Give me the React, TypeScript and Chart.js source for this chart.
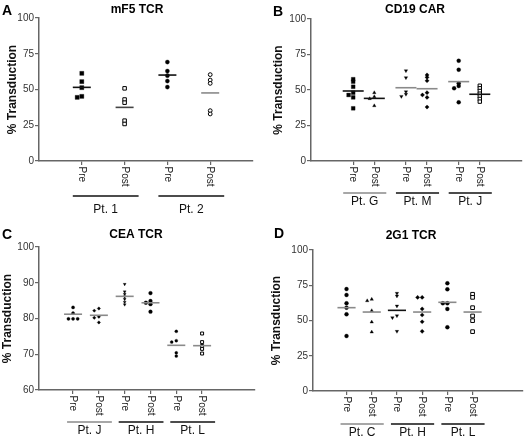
import { useEffect, useRef } from 'react';
import { Chart, registerables } from 'chart.js';

Chart.register(...registerables);

const FONT = '"Liberation Sans", Arial, Helvetica, sans-serif';
const AXIS = '#666666';

// ---------- DATA ----------
// Panel A: mF5 TCR
const catsA = ['Pre', 'Post', 'Pre', 'Post'];
const groupsA = ['Pt. 1', 'Pt. 2'];
const a_pre1 = [61.3, 55.5, 51.3, 45.2, 44.5];
const a_post1 = [50.8, 43.0, 40.8, 28.2, 25.9];
const a_pre2 = [69.2, 62.9, 59.7, 55.9, 51.7];
const a_post2 = [60.4, 56.6, 54.3, 35.2, 32.9];
const meansA = [51.5, 37.5, 60.1, 47.6];
const yTicksA = [0, 25, 50, 75, 100];

// Panel B: CD19 CAR
const catsB = ['Pre', 'Post', 'Pre', 'Post', 'Pre', 'Post'];
const groupsB = ['Pt. G', 'Pt. M', 'Pt. J'];
const b_preG = [57.6, 55.9, 52.3, 48.1, 46.5, 44.8, 37.1];
const b_postG = [48.1, 45.3, 43.9, 38.9];
const b_preM = [63.6, 58.7, 48.8, 47.0, 45.5];
const b_postM = [60.6, 58.9, 56.5, 48.1, 46.5, 44.8, 38.0];
const b_preJ = [70.6, 64.3, 54.7, 52.8, 51.2, 41.3];
const b_postJ = [53.0, 51.2, 49.3, 47.4, 45.5, 43.7, 41.8];
const meansB = [49.3, 44.1, 51.6, 50.9, 55.9, 47.0];
const yTicksB = [0, 25, 50, 75, 100];

// Panel C: CEA TCR
const catsC = ['Pre', 'Post', 'Pre', 'Post', 'Pre', 'Post'];
const groupsC = ['Pt. J', 'Pt. H', 'Pt. L'];
const c_preJ = [83.1, 81.5, 79.9, 79.9, 79.9];
const c_postJ = [82.8, 82.2, 80.5, 80.2, 78.9];
const c_preH = [89.6, 87.5, 86.8, 86.1, 85.4, 84.6, 83.9];
const c_postH = [87.1, 84.9, 84.4, 84.0, 81.9];
const c_preL = [76.4, 73.8, 73.4, 70.4, 69.5];
const c_postL = [75.8, 73.4, 72.3, 71.5, 70.2];
const meansC = [81.2, 80.9, 86.2, 84.4, 72.5, 72.4];
const yTicksC = [60, 70, 80, 90, 100];

// Panel D: 2G1 TCR
const catsD = ['Pre', 'Post', 'Pre', 'Post', 'Pre', 'Post'];
const groupsD = ['Pt. C', 'Pt. H', 'Pt. L'];
const d_preC = [72.3, 68.1, 62.2, 59.1, 54.4, 39.0];
const d_postC = [65.0, 64.0, 57.0, 48.9, 41.8];
const d_preH = [69.3, 67.4, 60.3, 53.4, 52.0, 42.3];
const d_postH = [66.4, 66.4, 58.2, 53.9, 49.1, 42.3];
const d_preL = [76.4, 72.1, 62.2, 62.2, 58.2, 45.2];
const d_postL = [68.6, 66.4, 59.1, 53.2, 49.9, 42.1];
const meansD = [59.1, 56.0, 57.2, 56.0, 62.9, 56.0];
const yTicksD = [0, 25, 50, 75, 100];

// ---------- STYLES / LAYOUT ----------
type Marker = { style: string; rot?: number; fill: boolean; r: number };

type Spec = {
  letter: string; title: string;
  cats: string[]; groups: string[]; values: number[][]; means: number[]; yTicks: number[];
  positions: number[]; xMin: number; xMax: number;
  markers: Marker[]; meanColors: string[]; groupColors: string[];
  w: number; h: number; L: number; T: number; R: number; B: number;
  titleX: number; titleY: number; letterX: number; letterY: number;
  yTitlePad: number; meanHalfPx: number;
  ulL: number; ulR: number; ulDy: number; glDy: number;
};

const BLK = '#111111';
const GRY = '#8a8a8a';

const specs: { spec: Spec; left: number; top: number }[] = [
  {
    left: 0, top: 0,
    spec: {
      letter: 'A', title: 'mF5 TCR', cats: catsA, groups: groupsA,
      values: [a_pre1, a_post1, a_pre2, a_post2], means: meansA, yTicks: yTicksA,
      positions: [1, 2, 3, 4], xMin: 0, xMax: 5,
      markers: [
        { style: 'rect', fill: true, r: 2.9 },
        { style: 'rect', fill: false, r: 2.5 },
        { style: 'circle', fill: true, r: 2.1 },
        { style: 'circle', fill: false, r: 1.9 },
      ],
      meanColors: [BLK, '#444', BLK, GRY], groupColors: [BLK, BLK],
      w: 264, h: 218, L: 39, T: 18, R: 253, B: 161,
      titleX: 137, titleY: 9.5, letterX: 2, letterY: 15, yTitlePad: 5.3, meanHalfPx: 9,
      ulL: -9, ulR: 14, ulDy: 35, glDy: 49,
    },
  },
  {
    left: 264, top: 0,
    spec: {
      letter: 'B', title: 'CD19 CAR', cats: catsB, groups: groupsB,
      values: [b_preG, b_postG, b_preM, b_postM, b_preJ, b_postJ], means: meansB, yTicks: yTicksB,
      positions: [2, 3, 4.5, 5.5, 7, 8], xMin: 0, xMax: 10,
      markers: [
        { style: 'rect', fill: true, r: 2.7 },
        { style: 'triangle', fill: true, r: 2.0 },
        { style: 'triangle', rot: 180, fill: true, r: 2.0 },
        { style: 'rectRot', fill: true, r: 2.1 },
        { style: 'circle', fill: true, r: 2.0 },
        { style: 'rect', fill: false, r: 2.4 },
      ],
      meanColors: [BLK, BLK, GRY, GRY, GRY, BLK], groupColors: [GRY, BLK, BLK],
      w: 264, h: 218, L: 47, T: 19, R: 258, B: 161,
      titleX: 151, titleY: 9.5, letterX: 9, letterY: 15.5, yTitlePad: 7.3, meanHalfPx: 10.5,
      ulL: -10, ulR: 12, ulDy: 32, glDy: 41,
    },
  },
  {
    left: 0, top: 218,
    spec: {
      letter: 'C', title: 'CEA TCR', cats: catsC, groups: groupsC,
      values: [c_preJ, c_postJ, c_preH, c_postH, c_preL, c_postL], means: meansC, yTicks: yTicksC,
      positions: [1, 2, 3, 4, 5, 6], xMin: -0.32, xMax: 8.05,
      markers: [
        { style: 'circle', fill: true, r: 1.6 },
        { style: 'rectRot', fill: true, r: 1.7 },
        { style: 'triangle', rot: 180, fill: true, r: 1.7 },
        { style: 'circle', fill: true, r: 1.9 },
        { style: 'circle', fill: true, r: 1.5 },
        { style: 'rect', fill: false, r: 2.1 },
      ],
      meanColors: [GRY, GRY, GRY, GRY, GRY, GRY], groupColors: [GRY, BLK, BLK],
      w: 264, h: 219, L: 39, T: 29, R: 255, B: 172,
      titleX: 136, titleY: 17, letterX: 2, letterY: 20.5, yTitlePad: 0, meanHalfPx: 9,
      ulL: -6, ulR: 13, ulDy: 32, glDy: 41,
    },
  },
  {
    left: 264, top: 218,
    spec: {
      letter: 'D', title: '2G1 TCR', cats: catsD, groups: groupsD,
      values: [d_preC, d_postC, d_preH, d_postH, d_preL, d_postL], means: meansD, yTicks: yTicksD,
      positions: [1, 2, 3, 4, 5, 6], xMin: -0.33, xMax: 8.0,
      markers: [
        { style: 'circle', fill: true, r: 2.0 },
        { style: 'triangle', fill: true, r: 2.0 },
        { style: 'triangle', rot: 180, fill: true, r: 2.0 },
        { style: 'rectRot', fill: true, r: 2.1 },
        { style: 'circle', fill: true, r: 2.0 },
        { style: 'rect', fill: false, r: 2.6 },
      ],
      meanColors: [GRY, GRY, BLK, GRY, GRY, GRY], groupColors: [GRY, BLK, BLK],
      w: 264, h: 219, L: 49, T: 32, R: 262, B: 173,
      titleX: 147, titleY: 17.5, letterX: 10, letterY: 20, yTitlePad: 5.8, meanHalfPx: 9.2,
      ulL: -6, ulR: 12, ulDy: 33, glDy: 42,
    },
  },
];

// Spread points that would overlap (column scatter style), in data units.
function swarm(vals: number[], pxX: number, pxY: number): number[] {
  const order = vals.map((v, i) => ({ v, i })).sort((a, b) => b.v - a.v);
  const placed: { py: number; ox: number }[] = [];
  const out = new Array(vals.length).fill(0);
  const step = 4.6;
  const thr = 2.3;
  for (const { v, i } of order) {
    const py = v * pxY;
    const tries = [0, -1, 1, -2, 2, -3, 3];
    let chosen = 0;
    for (const k of tries) {
      const ox = k * step;
      const hit = placed.some((p) => Math.abs(p.py - py) < thr && Math.abs(p.ox - ox) < step * 0.9);
      if (!hit) { chosen = ox; break; }
    }
    placed.push({ py, ox: chosen });
    out[i] = chosen / pxX;
  }
  return out;
}

function makeChart(canvas: HTMLCanvasElement, s: Spec) {
  const yMin = s.yTicks[0];
  const yMax = s.yTicks[s.yTicks.length - 1];
  const pxX = (s.R - s.L) / (s.xMax - s.xMin);
  const pxY = (s.B - s.T) / (yMax - yMin);
  const meanHalf = s.meanHalfPx / pxX;

  const datasets: any[] = [];
  s.values.forEach((vals, i) => {
    const m = s.markers[i];
    const off = swarm(vals, pxX, pxY);
    datasets.push({
      type: 'scatter',
      data: vals.map((v, j) => ({ x: s.positions[i] + off[j], y: v })),
      pointStyle: m.style,
      rotation: m.rot || 0,
      pointRadius: m.r,
      pointBackgroundColor: m.fill ? '#000' : '#fff',
      pointBorderColor: '#000',
      pointBorderWidth: m.fill ? 0.3 : 1,
      order: 2,
    });
  });
  s.means.forEach((mv, i) => {
    datasets.push({
      type: 'line',
      data: [{ x: s.positions[i] - meanHalf, y: mv }, { x: s.positions[i] + meanHalf, y: mv }],
      borderColor: s.meanColors[i],
      borderWidth: 1.6,
      pointRadius: 0,
      fill: false,
      order: 1,
    });
  });

  const decor = {
    id: 'decor',
    afterDraw(chart: any) {
      const ctx = chart.ctx as CanvasRenderingContext2D;
      const xs = chart.scales.x;
      const axisY = chart.chartArea.bottom;
      ctx.save();
      // panel letter
      ctx.fillStyle = '#000';
      ctx.font = `bold 14px ${FONT}`;
      ctx.textAlign = 'left';
      ctx.textBaseline = 'alphabetic';
      ctx.fillText(s.letter, s.letterX, s.letterY);
      // title
      ctx.font = `bold 12px ${FONT}`;
      ctx.textAlign = 'center';
      ctx.textBaseline = 'middle';
      ctx.fillText(s.title, s.titleX, s.titleY);
      // rotated category labels
      ctx.font = `10px ${FONT}`;
      ctx.fillStyle = '#222';
      s.cats.forEach((c, i) => {
        const px = xs.getPixelForValue(s.positions[i]);
        ctx.save();
        ctx.translate(px, axisY + 5.5);
        ctx.rotate(Math.PI / 2);
        ctx.textAlign = 'left';
        ctx.textBaseline = 'middle';
        ctx.fillText(c, 0, 0);
        ctx.restore();
      });
      // group underlines and labels
      s.groups.forEach((g, gi) => {
        const p0 = xs.getPixelForValue(s.positions[gi * 2]);
        const p1 = xs.getPixelForValue(s.positions[gi * 2 + 1]);
        const x0 = p0 + s.ulL;
        const x1 = p1 + s.ulR;
        ctx.strokeStyle = s.groupColors[gi];
        ctx.lineWidth = 1.3;
        ctx.beginPath();
        ctx.moveTo(x0, axisY + s.ulDy);
        ctx.lineTo(x1, axisY + s.ulDy);
        ctx.stroke();
        ctx.fillStyle = '#111';
        ctx.font = `12px ${FONT}`;
        ctx.textAlign = 'center';
        ctx.textBaseline = 'middle';
        ctx.fillText(g, (x0 + x1) / 2, axisY + s.glDy);
      });
      ctx.restore();
    },
  };

  return new Chart(canvas, {
    type: 'scatter',
    data: { datasets },
    plugins: [decor],
    options: {
      responsive: false,
      animation: false,
      events: [],
      layout: { padding: { left: 0, top: s.T, right: s.w - s.R, bottom: 0 } },
      plugins: { legend: { display: false }, tooltip: { enabled: false }, title: { display: false } },
      scales: {
        x: {
          type: 'linear',
          min: s.xMin,
          max: s.xMax,
          afterBuildTicks: (sc: any) => { sc.ticks = s.positions.map((v) => ({ value: v })); },
          afterFit: (sc: any) => { sc.height = s.h - s.B; },
          ticks: { display: false },
          grid: { drawOnChartArea: false, drawTicks: true, tickLength: 4, color: AXIS, lineWidth: 1.2 },
          border: { display: true, color: AXIS, width: 1.5 },
        },
        y: {
          type: 'linear',
          min: yMin,
          max: yMax,
          afterBuildTicks: (sc: any) => { sc.ticks = s.yTicks.map((v) => ({ value: v })); },
          afterFit: (sc: any) => { sc.width = s.L; },
          ticks: { font: { family: FONT, size: 10 }, color: '#333', padding: 1 },
          grid: { drawOnChartArea: false, drawTicks: true, tickLength: 4, color: AXIS, lineWidth: 1.2 },
          border: { display: true, color: AXIS, width: 1.5 },
          title: {
            display: true,
            text: '% Transduction',
            color: '#111',
            font: { family: FONT, size: 12, weight: 'bold' },
            padding: { top: s.yTitlePad, bottom: 0 },
          },
        },
      },
    } as any,
  });
}

function Panel({ spec, left, top }: { spec: Spec; left: number; top: number }) {
  const ref = useRef<HTMLCanvasElement | null>(null);
  useEffect(() => {
    if (!ref.current) return;
    const chart = makeChart(ref.current, spec);
    return () => chart.destroy();
  }, [spec]);
  return (
    <canvas
      ref={ref}
      width={spec.w}
      height={spec.h}
      style={{ position: 'absolute', left, top, width: spec.w, height: spec.h, display: 'block' }}
    />
  );
}

export default function App() {
  return (
    <div style={{ position: 'absolute', left: 0, top: 0, width: 528, height: 437, background: '#fff', overflow: 'hidden' }}>
      {specs.map((p, i) => (
        <Panel key={i} spec={p.spec} left={p.left} top={p.top} />
      ))}
    </div>
  );
}
